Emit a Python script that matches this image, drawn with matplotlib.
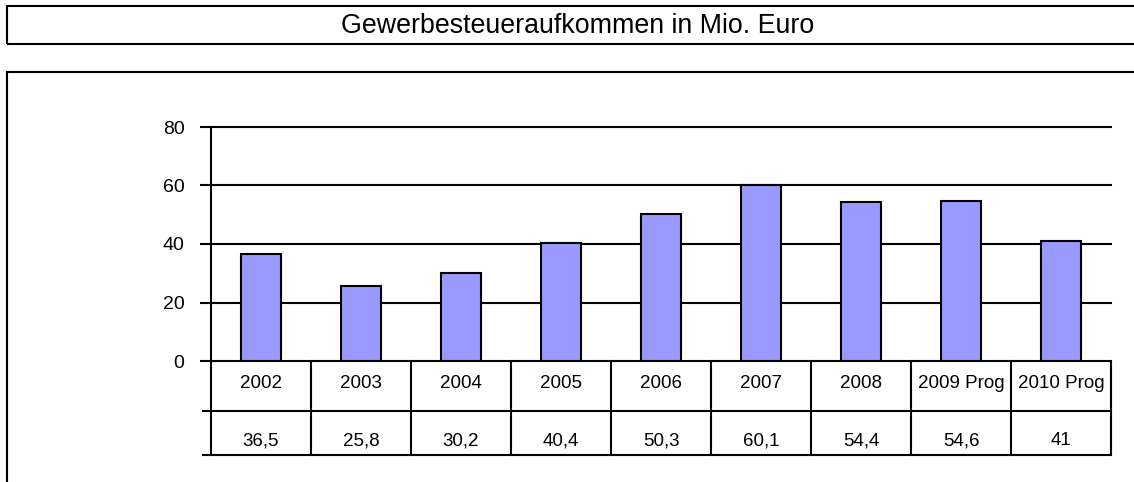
import matplotlib
matplotlib.use("Agg")
import matplotlib.pyplot as plt
from matplotlib.lines import Line2D
from matplotlib.patches import Rectangle

plt.rcParams['font.family'] = ['Liberation Sans', 'DejaVu Sans']

title = "Gewerbesteueraufkommen in Mio. Euro"
categories = ["2002", "2003", "2004", "2005", "2006", "2007", "2008", "2009 Prog", "2010 Prog"]
values = [36.5, 25.8, 30.2, 40.4, 50.3, 60.1, 54.4, 54.6, 41]
value_labels = ["36,5", "25,8", "30,2", "40,4", "50,3", "60,1", "54,4", "54,6", "41"]
yticks = [0, 20, 40, 60, 80]

W, H = 1134, 482
fig = plt.figure(figsize=(W / 100, H / 100), dpi=100)

def fx(px):
    return px / W

def fy(py):
    return 1 - py / H

# Title box
fig.add_artist(Rectangle((fx(7), fy(44)), fx(1140) - fx(7), fy(6) - fy(44),
                         transform=fig.transFigure, fill=False, lw=1.5, ec='black'))
fig.text(fx(578), fy(33), title, ha='center', va='baseline', fontsize=19.3)

# Chart box
fig.add_artist(Rectangle((fx(7), fy(490)), fx(1140) - fx(7), fy(72) - fy(490),
                         transform=fig.transFigure, fill=False, lw=1.5, ec='black'))

# Plot area
L, R, T, B = 211, 1111, 127, 361
ax = fig.add_axes([fx(L), fy(B), fx(R) - fx(L), fy(T) - fy(B)])
n = len(categories)
x = list(range(n))
ax.set_xlim(-0.5, n - 0.5)
ax.set_ylim(0, 80)
for t in yticks:
    ax.axhline(t, color='black', lw=1.5, zorder=1, clip_on=False)
ax.bar(x, values, width=0.4, color='#9999FF', edgecolor='black', linewidth=1.5, zorder=3)
for s in ['top', 'right', 'bottom']:
    ax.spines[s].set_visible(False)
ax.spines['left'].set_linewidth(1.5)
ax.set_yticks(yticks)
ax.set_yticklabels([str(t) for t in yticks], fontsize=14)
ax.tick_params(axis='y', length=8, width=1.5, pad=11)
ax.set_xticks([])
ax.set_facecolor('none')

# Data table
row1_top, row1_bot, row2_bot = 361, 411, 455
tick_left = 203
for yy in [row1_bot, row2_bot]:
    fig.add_artist(Line2D([fx(tick_left), fx(R)], [fy(yy), fy(yy)],
                          transform=fig.transFigure, color='black', lw=1.5))
colw = (R - L) / n
for i in range(n + 1):
    xx = L + i * colw
    fig.add_artist(Line2D([fx(xx), fx(xx)], [fy(row1_top), fy(row2_bot)],
                          transform=fig.transFigure, color='black', lw=1.5))
for i in range(n):
    cx = L + (i + 0.5) * colw
    fig.text(fx(cx), fy(388.5), categories[i], ha='center', va='baseline', fontsize=13.5)
    fig.text(fx(cx), fy(445), value_labels[i], ha='center', va='baseline', fontsize=13.5)

fig.savefig("out.png", dpi=100, facecolor='white')
